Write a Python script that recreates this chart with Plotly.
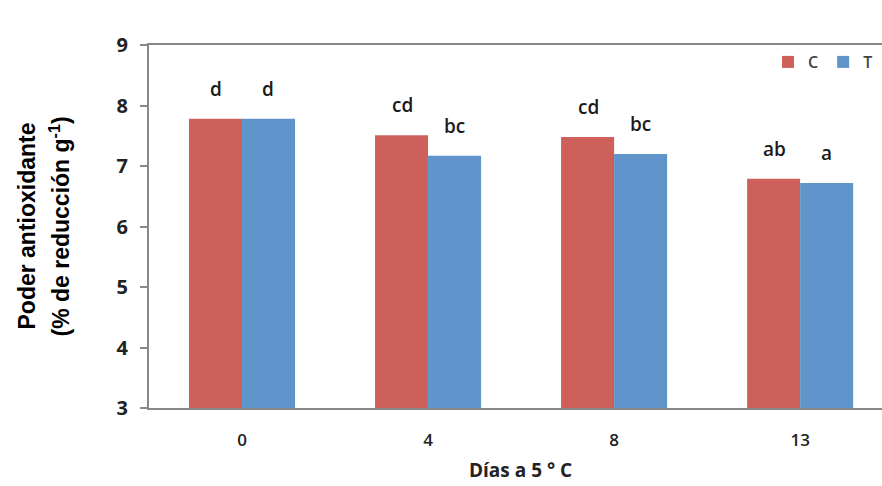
import plotly.graph_objects as go

dias = ["0", "4", "8", "13"]
control = [7.78, 7.51, 7.48, 6.79]
tratado = [7.78, 7.17, 7.20, 6.72]
letras_c = ["d", "cd", "cd", "ab"]
letras_t = ["d", "bc", "bc", "a"]

RED = "#CD605B"
BLUE = "#5F95CA"

fig = go.Figure()
fig.add_bar(x=dias, y=control, name="C", marker_color=RED, marker_line_width=0)
fig.add_bar(x=dias, y=tratado, name="T", marker_color=BLUE, marker_line_width=0)

lfont = dict(family="Open Sans", size=19, color="#1a1a1a", weight=600)
ann = []
for i, (v, l) in enumerate(zip(control, letras_c)):
    ann.append(dict(x=i, y=v, text=l, xref="x", yref="y", showarrow=False,
                    xshift=-26, yshift=15, yanchor="bottom", font=lfont))
for i, (v, l) in enumerate(zip(tratado, letras_t)):
    ann.append(dict(x=i, y=v, text=l, xref="x", yref="y", showarrow=False,
                    xshift=26, yshift=15, yanchor="bottom", font=lfont))

ann.append(dict(x=-149/733 + 26/733, y=0.5, xref="paper", yref="paper",
                text="<b>Poder antioxidante</b>", textangle=-90, showarrow=False,
                xanchor="center", yanchor="middle",
                font=dict(family="Liberation Sans", size=23, color="black")))
ann.append(dict(x=-149/733 + 59/733, y=0.5, xref="paper", yref="paper",
                text="<b>(% de reducción g<sup>-1</sup>)</b>", textangle=-90, showarrow=False,
                xanchor="center", yanchor="middle",
                font=dict(family="Liberation Sans", size=23, color="black")))
ann.append(dict(x=(520-149)/733, y=-(470-408)/363, xref="paper", yref="paper",
                text="<b>Días a 5 ° C</b>", showarrow=False,
                xanchor="center", yanchor="middle",
                font=dict(family="Open Sans", size=19, color="#222222")))

fig.update_layout(
    width=882, height=486,
    margin=dict(l=149, r=0, t=45, b=78),
    paper_bgcolor="white", plot_bgcolor="white",
    barmode="group", bargap=0.43, bargroupgap=0,
    showlegend=True,
    legend=dict(orientation="h", x=(768-149)/733, y=1 - (62-45)/363, xanchor="left", yanchor="middle",
                font=dict(family="Open Sans", size=16, color="#444444", weight=600),
                itemwidth=30, itemsizing="constant", bgcolor="rgba(0,0,0,0)", traceorder="normal"),
    annotations=ann,
    xaxis=dict(type="category", range=[-0.5, 3.44], showline=True, linecolor="#888888", linewidth=2,
               mirror=True, ticks="", showgrid=False,
               tickfont=dict(family="Open Sans", size=17, color="#222222", weight=600),
               ticklabelstandoff=16),
    yaxis=dict(range=[3, 9], dtick=1, showline=True, linecolor="#888888", linewidth=2,
               ticks="outside", ticklen=7, tickcolor="#888888", tickwidth=2,
               showgrid=False, zeroline=False,
               tickfont=dict(family="Open Sans", size=20, color="#222222", weight="bold"),
               ticklabelstandoff=8),
)

fig.write_html("out.html")
